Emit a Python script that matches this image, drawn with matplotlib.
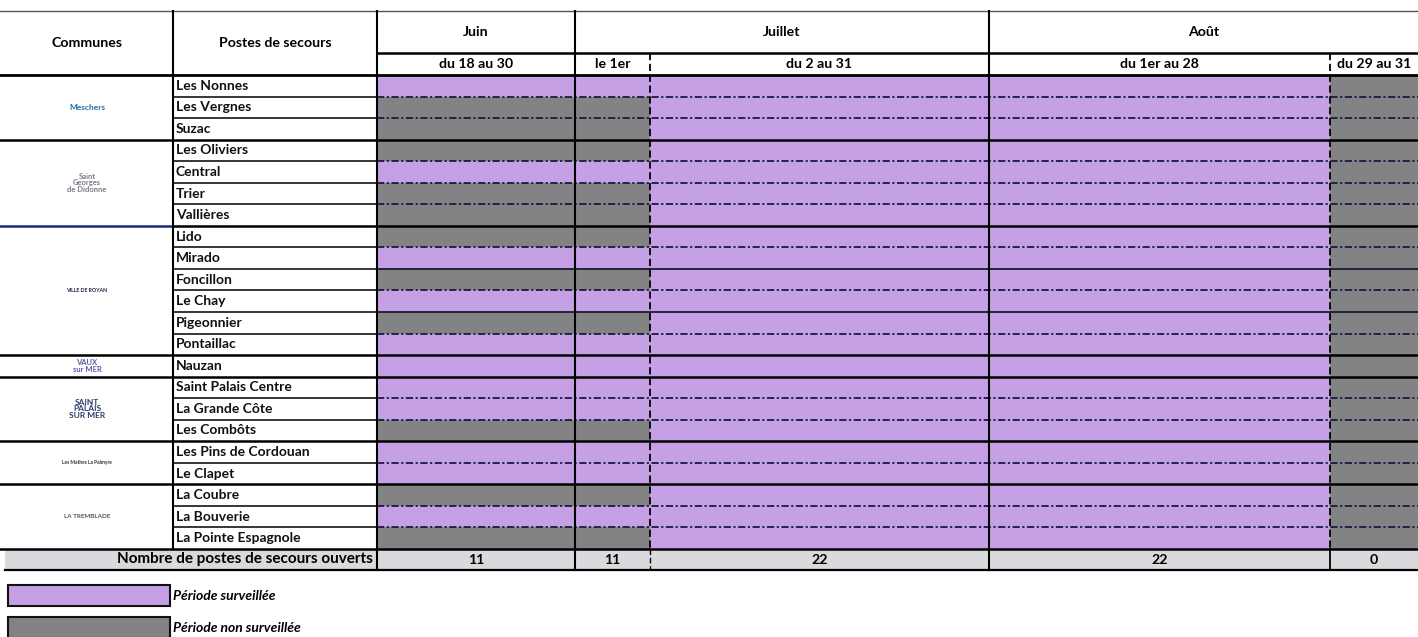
import matplotlib
matplotlib.use("Agg")
import matplotlib.pyplot as plt

# ---------------- data ----------------
communes = ["Meschers", "Saint Georges de Didonne", "Royan", "Vaux sur Mer",
            "Saint Palais sur Mer", "Les Mathes La Palmyre", "La Tremblade"]
group_sizes = [3, 4, 6, 1, 3, 2, 3]
postes = ["Les Nonnes", "Les Vergnes", "Suzac",
          "Les Oliviers", "Central", "Trier", "Vallières",
          "Lido", "Mirado", "Foncillon", "Le Chay", "Pigeonnier", "Pontaillac",
          "Nauzan",
          "Saint Palais Centre", "La Grande Côte", "Les Combôts",
          "Les Pins de Cordouan", "Le Clapet",
          "La Coubre", "La Bouverie", "La Pointe Espagnole"]
months = ["Juin", "Juillet", "Août"]
month_periods = [1, 2, 2]
periods = ["du 18 au 30", "le 1er", "du 2 au 31", "du 1er au 28", "du 29 au 31"]
# 1 = période surveillée, 0 = période non surveillée
juin_18_30 = [1, 0, 0, 0, 1, 0, 0, 0, 1, 0, 1, 0, 1, 1, 1, 1, 0, 1, 1, 0, 1, 0]
juil_1     = [1, 0, 0, 0, 1, 0, 0, 0, 1, 0, 1, 0, 1, 1, 1, 1, 0, 1, 1, 0, 1, 0]
juil_2_31  = [1] * 22
aout_1_28  = [1] * 22
aout_29_31 = [0] * 22
status = [juin_18_30, juil_1, juil_2_31, aout_1_28, aout_29_31]
legend_labels = ["Période surveillée", "Période non surveillée"]
summary_label = "Nombre de postes de secours ouverts"

# ---------------- layout (pixels) ----------------
W, H = 1418, 637
x_comm, x_post, x_data = 0, 173, 377
period_edges = [377, 575, 650, 989, 1330, 1418]
y_top, y_mid, y_data = 11, 53, 75
y_sum = 549
y_sum_end = 570
rh = (y_sum - y_data) / len(postes)

PURPLE = "#C6A0E4"
GRAY = "#838385"
SUMBG = "#D9D9DE"
DD = (0, (4, 1.4, 1.2, 1.4))

plt.rcParams['font.family'] = ['Lato', 'DejaVu Sans']

fig = plt.figure(figsize=(W / 100, H / 100), dpi=100)
ax = fig.add_axes([0, 0, 1, 1])
ax.set_xlim(0, W)
ax.set_ylim(H, 0)
ax.axis('off')

centers = [y_data + (i + 0.5) * rh for i in range(len(postes))]

# cells
for j, st in enumerate(status):
    x0, x1 = period_edges[j], period_edges[j + 1]
    ax.barh(centers, x1 - x0, left=x0, height=rh,
            color=[PURPLE if s else GRAY for s in st], linewidth=0, zorder=1)

# summary row background
ax.barh([(y_sum + y_sum_end) / 2], W - 5, left=5, height=y_sum_end - y_sum,
        color=SUMBG, linewidth=0, zorder=1)

# group boundaries
bounds = []
acc = 0
for g in group_sizes:
    acc += g
    bounds.append(acc)
group_set = set(bounds)

# horizontal lines
ax.plot([0, W], [y_top, y_top], color="#555555", lw=1.0, zorder=3)
ax.plot([x_data, W], [y_mid, y_mid], color="black", lw=1.8, zorder=3)
ax.plot([0, W], [y_data, y_data], color="black", lw=2.0, zorder=3)
solid_inner = {9, 11}
for i in range(1, len(postes) + 1):
    y = y_data + i * rh
    if i in group_set:
        if i == 7:
            ax.plot([0, x_post], [y, y], color="#1c2a78", lw=1.8, zorder=3)
            ax.plot([x_post, W], [y, y], color="black", lw=1.8, zorder=3)
        else:
            ax.plot([0, W], [y, y], color="black", lw=1.8, zorder=3)
    else:
        ax.plot([x_post, x_data], [y, y], color="black", lw=1.1, zorder=3)
        if i in solid_inner:
            ax.plot([x_data, W], [y, y], color="#1a1a30", lw=1.3, zorder=3)
        else:
            ax.plot([x_data, W], [y, y], color="#1a1a40", lw=1.3, ls=DD, zorder=3)
ax.plot([5, W], [y_sum_end, y_sum_end], color="black", lw=1.6, zorder=3)

# vertical lines
ax.plot([x_post, x_post], [y_top, y_sum], color="black", lw=1.5, zorder=3)
ax.plot([x_data, x_data], [y_top, y_sum_end], color="black", lw=1.5, zorder=3)
ax.plot([575, 575], [y_top, y_sum_end], color="black", lw=1.5, zorder=3)
ax.plot([989, 989], [y_top, y_sum_end], color="black", lw=1.5, zorder=3)
ax.plot([650, 650], [y_mid, y_sum], color="black", lw=1.3, ls=(0, (4, 2)), zorder=3)
ax.plot([650, 650], [y_sum, y_sum_end], color="black", lw=1.0, ls=(0, (4, 2)), zorder=3)
ax.plot([1330, 1330], [y_mid, y_sum], color="black", lw=1.3, ls=(0, (4, 2)), zorder=3)
ax.plot([1330, 1330], [y_sum, y_sum_end], color="black", lw=1.3, zorder=3)

# header text
hfs = 10.2
ax.text((x_comm + x_post) / 2, 43, "Communes", ha='center', va='center',
        fontsize=hfs, fontweight='bold', zorder=4)
ax.text((x_post + x_data) / 2, 43, "Postes de secours", ha='center', va='center',
        fontsize=hfs, fontweight='bold', zorder=4)
k = 0
for m, n in zip(months, month_periods):
    x0, x1 = period_edges[k], period_edges[k + n]
    ax.text((x0 + x1) / 2, 32, m, ha='center', va='center', fontsize=hfs,
            fontweight='bold', zorder=4)
    k += n
for j, p in enumerate(periods):
    x0, x1 = period_edges[j], period_edges[j + 1]
    ax.text((x0 + x1) / 2, 64.5, p, ha='center', va='center', fontsize=hfs,
            fontweight='bold', zorder=4)

# postes names
for name, yc in zip(postes, centers):
    ax.text(x_post + 3, yc, name, ha='left', va='center', fontsize=10,
            fontweight='bold', color="#111111", zorder=4)

# commune "logos" as small text
logo_styles = [
    dict(text="Meschers", color="#1f6fa8", fs=6),
    dict(text="Saint\nGeorges\nde Didonne", color="#7a7a8a", fs=5.5),
    dict(text="VILLE DE ROYAN", color="#222244", fs=3.8),
    dict(text="VAUX\nsur MER", color="#5a5aa8", fs=5.5),
    dict(text="SAINT\nPALAIS\nSUR MER", color="#2a3f6a", fs=6),
    dict(text="Les Mathes La Palmyre", color="#333333", fs=3.5),
    dict(text="LA TREMBLADE", color="#555555", fs=4.5),
]
start = 0
for g, st in zip(group_sizes, logo_styles):
    yc = y_data + (start + g / 2) * rh
    ax.text(87, yc, st["text"], ha='center', va='center', fontsize=st["fs"],
            color=st["color"], fontweight='bold', linespacing=0.9, zorder=4)
    start += g

# summary row
ax.text(x_data - 4, (y_sum + y_sum_end) / 2, summary_label, ha='right', va='center',
        fontsize=11, fontweight='bold', zorder=4)
for j in range(len(periods)):
    x0, x1 = period_edges[j], period_edges[j + 1]
    ax.text((x0 + x1) / 2, (y_sum + y_sum_end) / 2 + 1, str(sum(status[j])),
            ha='center', va='center', fontsize=hfs, fontweight='bold', zorder=4)

# legend
leg_y = [(585 + 606) / 2, (617 + 638) / 2]
ax.barh(leg_y, [162, 162], left=8, height=[21, 21], color=[PURPLE, GRAY],
        edgecolor="#111111", linewidth=1.5, zorder=2)
for lab, yy in zip(legend_labels, leg_y):
    ax.text(173, yy, lab, ha='left', va='center', fontsize=10, fontweight='bold',
            fontstyle='italic', zorder=4)

fig.savefig("out.png", dpi=100)
